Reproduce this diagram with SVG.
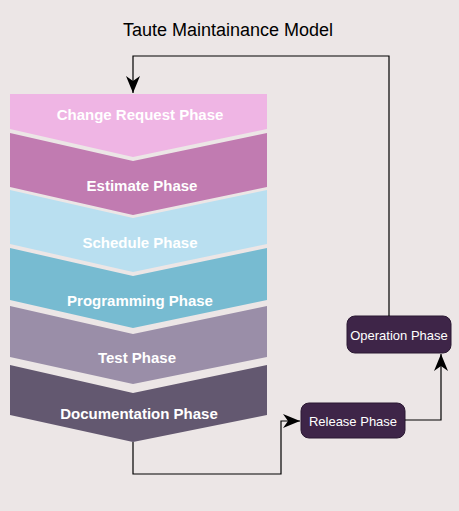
<svg xmlns="http://www.w3.org/2000/svg" width="459" height="511" viewBox="0 0 459 511">
<defs>
<style>
.ph{font-family:"Liberation Sans",Arial,sans-serif;font-size:15px;font-weight:bold;fill:#ffffff;text-anchor:middle;dominant-baseline:central}
.bx{fill:#3e2548;stroke:#2a1832;stroke-width:1}
.bt{font-family:"Liberation Sans",Arial,sans-serif;font-size:13px;fill:#ffffff;text-anchor:middle;dominant-baseline:central}
.cn{fill:none;stroke:#000000;stroke-width:1.2}
</style>
<marker id="ah" markerUnits="userSpaceOnUse" markerWidth="18" markerHeight="16" viewBox="0 0 18 16" refX="17" refY="8" orient="auto">
<path d="M0,1 L17,8 L0,15 L5,8 z" fill="#000000"/>
</marker>
</defs>
<rect width="459" height="511" fill="#ece6e6"/>
<text x="228" y="30" font-family="'Liberation Sans',Arial,sans-serif" font-size="18" text-anchor="middle" dominant-baseline="central" fill="#000000">Taute Maintainance Model</text>
<g id="change-request">
<polygon points="10,94 267,94 267,129 133,157 10,129" fill="#efb5e4"/>
<text class="ph" x="140" y="114">Change Request Phase</text>
</g>
<g id="estimate">
<polygon points="10,133 133,161 267,133 267,187 133,215 10,187" fill="#c17bb1"/>
<text class="ph" x="142" y="185">Estimate Phase</text>
</g>
<g id="schedule">
<polygon points="10,190 133,218 267,190 267,244 133,272 10,244" fill="#b9dff0"/>
<text class="ph" x="140" y="242">Schedule Phase</text>
</g>
<g id="programming">
<polygon points="10,248 133,276 267,248 267,300 133,328 10,300" fill="#77bbd1"/>
<text class="ph" x="140" y="300">Programming Phase</text>
</g>
<g id="test">
<polygon points="10,306 133,334 267,306 267,357 133,384 10,357" fill="#9a8ea8"/>
<text class="ph" x="137" y="357">Test Phase</text>
</g>
<g id="documentation">
<polygon points="10,365 133,393 267,365 267,415 133,442 10,415" fill="#635870"/>
<text class="ph" x="139" y="413">Documentation Phase</text>
</g>
<g id="release">
<rect class="bx" x="301" y="403" width="104" height="35" rx="8"/>
<text class="bt" x="353" y="421">Release Phase</text>
</g>
<g id="operation">
<rect class="bx" x="347" y="316" width="104" height="37" rx="8"/>
<text class="bt" x="399" y="335">Operation Phase</text>
</g>
<g id="connectors">
<polyline class="cn" points="133,442 133,474 281,474 281,421 300,421" marker-end="url(#ah)"/>
<polyline class="cn" points="405,420 441,420 441,354" marker-end="url(#ah)"/>
<polyline class="cn" points="389,316 389,56 133,56 133,93" marker-end="url(#ah)"/>
</g>
</svg>
